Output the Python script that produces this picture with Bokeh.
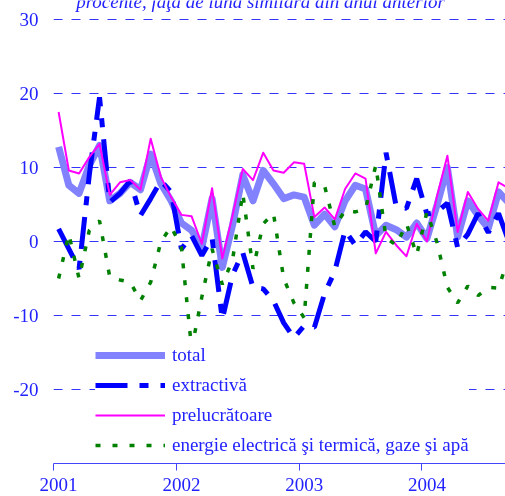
from bokeh.plotting import figure
from bokeh.models import (Range1d, FixedTicker, Legend, LegendItem, Label, ColumnDataSource)
from bokeh.embed import file_html
from bokeh.resources import INLINE
import numpy as np

# monthly data, Jan 2001 - Sep 2004 (percent, y/y)
total = [12.8, 7.6, 6.5, 10.3, 13.0, 5.5, 6.5, 8.0, 7.0, 11.8, 7.8, 5.5, 2.5, 1.5, -0.8,
         5.8, -3.5, 2.2, 9.0, 5.5, 9.6, 7.8, 5.8, 6.3, 6.0, 2.2, 3.7, 2.0, 5.5, 7.6,
         7.1, 0.8, 2.2, 1.6, 0.6, 2.5, 0.4, 5.0, 10.0, 0.6, 5.5, 3.5, 1.8, 6.7, 5.2]
extractiva = [1.7, -1.0, -3.7, 9.0, 19.5, 5.3, 6.5, 8.2, 3.5, 5.8, 8.2, 6.7, -1.0, 0.8, -1.9,
              0.5, -10.5, -4.5, -1.5, -6.2, -6.4, -8.0, -11.0, -13.0, -11.4, -11.6, -7.0, -4.0, 1.5, -0.5,
              1.3, 0.0, 12.0, 4.7, 4.5, 8.5, 3.7, 4.0, 5.2, -0.8, 1.0, 3.8, 1.2, 3.8, 0.0]
prelucratoare = [17.5, 9.6, 9.2, 11.4, 13.2, 6.3, 8.0, 8.3, 7.0, 13.9, 8.7, 6.0, 3.6, 3.4, -0.3,
                 7.2, -2.3, 3.5, 9.8, 8.3, 12.0, 9.6, 9.3, 10.7, 10.5, 3.3, 4.6, 3.0, 7.1, 9.2,
                 8.5, -1.6, 1.3, -0.5, -2.0, 2.4, 0.0, 6.2, 11.6, 1.3, 6.7, 4.4, 2.8, 8.0, 7.2]
energie = [-5.0, 1.0, -5.0, 1.5, 2.8, -4.8, -5.2, -5.5, -8.0, -5.5, 0.0, 2.0, -0.8, -14.5, -7.5,
           -1.0, -5.8, -2.5, 6.5, -3.7, 2.4, 3.8, -5.0, -8.3, -10.3, 8.0, 7.5, 2.0, 4.2, 4.0,
           4.4, 10.3, 0.5, -0.5, 2.4, -1.8, 4.0, -0.2, -6.2, -8.3, -6.0, -7.3, -6.2, -6.3, -2.0]
years = ["2001", "2002", "2003", "2004"]
y_ticks = [-20, -10, 0, 10, 20, 30]
y_tick_labels = ["-20", "-10", "0", "10", "20", "30"]
title_text = "procente, faţă de luna similară din anul anterior"
labels = ["total", "extractivă", "prelucrătoare", "energie electrică şi termică, gaze şi apă"]

n = len(total)
x = np.arange(n) + 0.5  # month centres on a category axis (12 per year)
src = ColumnDataSource(dict(x=x, total=total, extractiva=extractiva,
                            prelucratoare=prelucratoare, energie=energie))

BLUE_TXT = "#2222ff"
FONT = "Liberation Serif"

# frame reaches the canvas top so the (partly cut) subtitle can sit above the 30 line
p = figure(width=505, height=504, output_backend="svg", toolbar_location=None,
           x_range=Range1d(0, 44.18), y_range=Range1d(-30, 32.57),
           min_border_left=53, min_border_right=0, min_border_top=0, min_border_bottom=41)
p.styles = {"position": "fixed", "top": "0px", "left": "0px"}
p.outline_line_color = None
p.background_fill_color = "white"
p.border_fill_color = "white"

# x axis: ticks at year boundaries (minor), labels at January centres (major)
xa = p.xaxis[0]
year_pos = [12 * i for i in range(len(years))]
xa.ticker = FixedTicker(ticks=[v + 0.5 for v in year_pos], minor_ticks=year_pos)
xa.major_label_overrides = {v + 0.5: y for v, y in zip(year_pos, years)}
xa.major_tick_line_color = None
xa.major_tick_out = 7
xa.major_tick_in = 0
xa.minor_tick_line_color = "#4444ff"
xa.minor_tick_out = 7
xa.minor_tick_in = 0
xa.minor_tick_line_width = 1
xa.axis_line_color = "#4444ff"
xa.axis_line_width = 1
xa.major_label_standoff = 7
xa.major_label_text_font = FONT
xa.major_label_text_font_size = "19px"
xa.major_label_text_color = BLUE_TXT
xa.level = "overlay"

ya = p.yaxis[0]
ya.ticker = FixedTicker(ticks=y_ticks)
ya.major_label_overrides = {t: s for t, s in zip(y_ticks, y_tick_labels)}
ya.axis_line_color = None
ya.major_tick_line_color = None
ya.minor_tick_line_color = None
ya.major_tick_out = 0
ya.major_label_standoff = 15
ya.major_label_text_font = FONT
ya.major_label_text_font_size = "19px"
ya.major_label_text_color = BLUE_TXT

p.xgrid.grid_line_color = None
p.ygrid.ticker = FixedTicker(ticks=y_ticks)
p.ygrid.grid_line_color = "#3333ff"
p.ygrid.grid_line_dash = "9 9"
p.ygrid.grid_line_width = 1

r_total = p.line("x", "total", source=src, line_color="#8282ff", line_width=7, line_join="round")
r_extr = p.line("x", "extractiva", source=src, line_color="#0000ff", line_width=5,
                line_dash="32 12 9 12")
r_prel = p.line("x", "prelucratoare", source=src, line_color="#ff00ff", line_width=2, line_join="round")
r_en = p.line("x", "energie", source=src, line_color="#008000", line_width=3.5, line_dash="5 12")

legend = Legend(items=[LegendItem(label=labels[0], renderers=[r_total]),
                       LegendItem(label=labels[1], renderers=[r_extr]),
                       LegendItem(label=labels[2], renderers=[r_prel]),
                       LegendItem(label=labels[3], renderers=[r_en])],
                location=(42, 7), padding=6, spacing=8, glyph_width=70, glyph_height=22,
                label_height=22, label_standoff=7, margin=0,
                label_text_font=FONT, label_text_font_size="19px", label_text_color=BLUE_TXT,
                background_fill_color="white", background_fill_alpha=1.0, border_line_color=None)
p.add_layout(legend)

p.add_layout(Label(x=207, y=462, x_units="screen", y_units="screen", text=title_text,
                   text_align="center", text_baseline="alphabetic", text_font=FONT,
                   text_font_style="italic", text_font_size="19px", text_color=BLUE_TXT))

open("out.html", "w").write(file_html(p, INLINE))
